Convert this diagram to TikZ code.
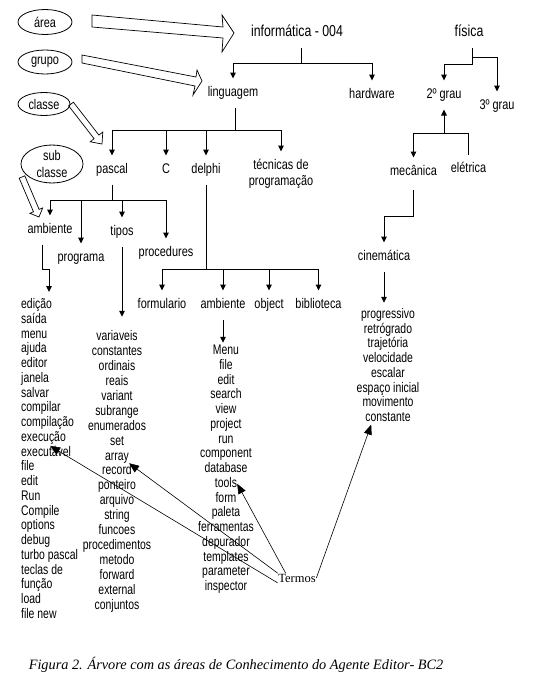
\documentclass[tikz,border=0pt]{standalone}
\usepackage{fontspec}
\setmainfont{Liberation Serif}
\newfontfamily\nar{Liberation Sans}[FakeStretch=0.78]
\newfontfamily\narl{Liberation Sans}[FakeStretch=0.75]
\usetikzlibrary{shapes.geometric,arrows.meta,calc}
\begin{document}
\begin{tikzpicture}[x=1pt,y=-1pt,
  lbl/.style={font=\nar\fontsize{14}{15}\selectfont, inner sep=1pt, outer ysep=7pt, text height=10pt, text depth=3pt},
  big/.style={font=\nar\fontsize{15.8}{17}\selectfont, inner sep=1pt, outer ysep=7pt, text height=11pt, text depth=3pt},
  li/.style={font=\narl\fontsize{13.9}{15}\selectfont, inner sep=0pt, text height=10pt, text depth=3pt},
  tl/.style={line width=1pt},
  ta/.style={tl, -{Triangle[width=5.5pt,length=6pt]}},
  el/.style={ellipse, draw, line width=0.8pt, inner sep=0pt, font=\nar\fontsize{14}{16.5}\selectfont, align=center},
  hol/.style={draw, line width=0.7pt, line join=miter},
  tm/.style={line width=0.6pt, -{Triangle[width=8pt,length=10pt]}}
]
\useasboundingbox (0,0) rectangle (544,685);
\fill[white] (0,0) rectangle (544,685);

% ellipses
\node[el, minimum width=54pt, minimum height=25pt] (e1) at (45,22) {área};
\node[el, minimum width=54pt, minimum height=24pt] (e2) at (45,62) {grupo};
\node[el, minimum width=52pt, minimum height=23pt] (e3) at (44,104) {classe};
\node[el, minimum width=62pt, minimum height=35pt] (e4) at (52,164) {sub\\classe};

% hollow arrows
\draw[hol] (92,15) -- (223,27) -- (222,15) -- (234,33) -- (222,52) -- (223,38) -- (92,27) -- cycle;
\draw[hol] (82,55) -- (196,77) -- (197,70) -- (202,81) -- (193,95) -- (195,86) -- (82,63) -- cycle;
\draw[hol] (73.4,102.2) -- (98.9,135.1) -- (102.8,132) -- (102,144) -- (90.2,141.8) -- (94.1,138.7) -- (68.6,105.8) -- cycle;
\draw[hol] (24.8,175.8) -- (39.1,209.4) -- (42.7,207.9) -- (39,217) -- (29.9,213.3) -- (33.5,211.8) -- (19.2,178.2) -- cycle;

% tree labels
\node[big] (info) at (297,33) {informática - 004};
\node[lbl] (ling) at (233,93) {linguagem};
\node[lbl] (hw) at (372,95) {hardware};
\node[lbl] (pas) at (112,170) {pascal};
\node[lbl] (c) at (166,170) {C};
\node[lbl] (del) at (206,170) {delphi};
\node[lbl] (tec1) at (281,166) {técnicas de};
\node[lbl] (tec2) at (281,182) {programação};
\node[lbl] (amb) at (50,230) {ambiente};
\node[lbl] (prog) at (81,258) {programa};
\node[lbl] (tip) at (122,232) {tipos};
\node[lbl] (proc) at (166,253) {procedures};
\node[lbl] (form) at (162,305) {formulario};
\node[lbl] (amb2) at (223,305) {ambiente};
\node[lbl] (obj) at (269,305) {object};
\node[lbl] (bib) at (318.5,305) {biblioteca};
\node[big] (fis) at (469,33) {física};
\node[lbl] (g2) at (444,95) {2º grau};
\node[lbl] (g3) at (497,106) {3º grau};
\node[lbl] (mec) at (413.5,172) {mecânica};
\node[lbl] (ele) at (468.5,169) {elétrica};
\node[lbl] (cin) at (384,257) {cinemática};

% lists
\foreach \t [count=\i] in {edição,saída,menu,ajuda,editor,janela,salvar,compilar,compilação,execução,executável,file,edit,Run,Compile,options,debug,turbo pascal,teclas de,função,load,file new}
  \node[li, anchor=west] (pa\i) at (21,{305+(\i-1)*14.76}) {\t};
\foreach \t [count=\i] in {variaveis,constantes,ordinais,reais,variant,subrange,enumerados,set,array,record,ponteiro,arquivo,string,funcoes,procedimentos,metodo,forward,external,conjuntos}
  \node[li] (ta\i) at (117,{337+(\i-1)*14.94}) {\t};
\foreach \t [count=\i] in {Menu,file,edit,search,view,project,run,component,database,tools,form,paleta,ferramentas,depurador,templates,parameter,inspector}
  \node[li] (dl\i) at (226,{351+(\i-1)*14.75}) {\t};
\foreach \t [count=\i] in {progressivo,retrógrado,trajetória,velocidade,escalar,espaço inicial,movimento,constante}
  \node[li] (pr\i) at (388,{315+(\i-1)*14.7}) {\t};

% connectors
\coordinate (j1) at (301,64);
\draw[tl] ([xshift=4pt]info.south) -- (j1);
\draw[ta] (j1) -| (ling.north);
\draw[ta] (j1) -| (hw.north);

\coordinate (j2) at (235,130);
\draw[tl] ([xshift=2pt]ling.south) -- (j2);
\draw[ta] (j2) -| (pas.north);
\draw[ta] (j2) -| (c.north);
\draw[ta] (j2) -| (del.north);
\draw[ta] (j2) -| (tec1.north);

\coordinate (j3) at (112,200);
\draw[tl] (pas.south) -- (j3);
\draw[ta] (j3) -| (amb.north);
\draw[ta] (j3) -| (prog.north);
\draw[ta] (j3) -| (tip.north);
\draw[ta] (j3) -| (proc.north);

\coordinate (paIn) at (49,292);
\draw[ta] ([xshift=-8pt]amb.south) -- ++(0,24.5) -| (paIn);
\draw[ta, shorten >=13.5pt] (tip.south) -- (tip.south |- ta1.north);

\coordinate (j4) at (206,269);
\draw[tl] (del.south) -- (j4);
\draw[ta] (j4) -| (form.north);
\draw[ta] (j4) -| (amb2.north);
\draw[ta] (j4) -| (obj.north);
\draw[ta] (j4) -| (bib.north);
\draw[ta, shorten >=1.5pt] (amb2.south) -- (amb2.south |- dl1.north);

\draw[ta] ([xshift=3pt]fis.south) -- ++(0,17) -| (g2.north);
\draw[ta] ([xshift=3pt]fis.south) -- ++(0,10) -| (g3.north);

\coordinate (j6) at (444,133);
\draw[ta] (j6) -- (g2.south);
\draw[ta] (j6) -| (mec.north);
\draw[tl] (j6) -| (ele.north);
\draw[ta, shorten <=3.5pt] (mec.south) -- ++(0,29.5) -| (cin.north);
\draw[ta, shorten >=5.5pt] (cin.south) -- (cin.south |- pr1.north);

% Termos
\node[font=\fontsize{12.5}{14}\selectfont, inner sep=0.5pt] (term) at (297,578) {Termos};
\draw[tm] (term.north west) -- (ta9.south east);
\draw[tm] (term.south west) -- ([xshift=4pt]pa11.north);
\draw[tm] ([xshift=8pt]term.north west) -- (dl10.east);
\draw[tm] (term.east) -- ([xshift=6pt]pr8.south west);

% caption
\node[font=\itshape\fontsize{14.3}{16}\selectfont] (cap) at (236,665) {Figura 2. Árvore com as áreas de Conhecimento do Agente Editor- BC2};
\end{tikzpicture}
\end{document}
